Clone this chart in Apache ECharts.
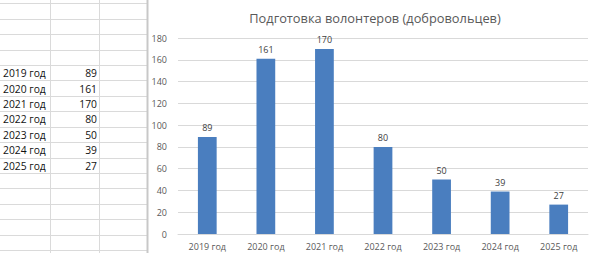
<!DOCTYPE html>
<html>
<head>
<meta charset="utf-8">
<script src="https://cdn.jsdelivr.net/npm/echarts@6/dist/echarts.min.js"></script>
<style>
html,body{margin:0;padding:0;background:#fff;}
#chart{width:600px;height:253px;}
</style>
</head>
<body>
<div id="chart"></div>
<script>
var categories = ['2019 год','2020 год','2021 год','2022 год','2023 год','2024 год','2025 год'];
var values = [89,161,170,80,50,39,27];
var yTicks = [0,20,40,60,80,100,120,140,160,180];
var title = 'Подготовка волонтеров (добровольцев)';

var chart = echarts.init(document.getElementById('chart'), null, {renderer:'svg'});

// spreadsheet grid (left part of screenshot)
var rowH = 15.42, firstLine = 3.3, dataStartRow = 4;
var g = [];
g.push({type:'rect', shape:{x:0,y:0,width:148,height:253}, style:{fill:'#fff'}, silent:true});
for (var i = 0; i < 17; i++) {
  var y = Math.round(firstLine + i*rowH) + 0.5;
  g.push({type:'line', shape:{x1:0,y1:y,x2:147,y2:y}, style:{stroke:'#dadada',lineWidth:1}, silent:true});
}
[50.5, 99.5].forEach(function(x){
  g.push({type:'line', shape:{x1:x,y1:0,x2:x,y2:253}, style:{stroke:'#dadada',lineWidth:1}, silent:true});
});
g.push({type:'line', shape:{x1:147.5,y1:0,x2:147.5,y2:253}, style:{stroke:'#c8c8c8',lineWidth:2}, silent:true});
categories.forEach(function(c, k){
  var yc = firstLine + (dataStartRow + k + 0.5)*rowH + 0.5;
  g.push({type:'text', x:3, y:yc, style:{text:c, fill:'#111', font:'10.3px "Open Sans", sans-serif', textVerticalAlign:'middle', textAlign:'left'}, silent:true});
  g.push({type:'text', x:97, y:yc, style:{text:String(values[k]), fill:'#111', font:'10.3px "Open Sans", sans-serif', textVerticalAlign:'middle', textAlign:'right'}, silent:true});
});
g.push({type:'text', x:375, y:18, style:{text:title, fill:'#595959', font:'12.8px "Open Sans", sans-serif', textVerticalAlign:'middle', textAlign:'center'}, silent:true});

chart.setOption({
  animation:false,
  backgroundColor:'#fff',
  grid:{left:178, right:12, top:38, bottom:19},
  xAxis:{type:'category', data:categories,
    axisLine:{lineStyle:{color:'#d9d9d9'}}, axisTick:{show:false},
    axisLabel:{color:'#595959', fontSize:9, fontFamily:'"Open Sans", sans-serif', margin:8, interval:0}},
  yAxis:{type:'value', min:yTicks[0], max:yTicks[yTicks.length-1], interval:20,
    splitLine:{lineStyle:{color:'#d9d9d9'}},
    axisLine:{show:false}, axisTick:{show:false},
    axisLabel:{color:'#595959', fontSize:9, fontFamily:'"Open Sans", sans-serif', margin:11}},
  series:[{type:'bar', data:values, barWidth:'32%',
    itemStyle:{color:'#4a7ebf'},
    label:{show:true, position:'top', distance:5, color:'#404040', fontSize:9, fontFamily:'"Open Sans", sans-serif'}}],
  graphic:g
});
</script>
</body>
</html>
